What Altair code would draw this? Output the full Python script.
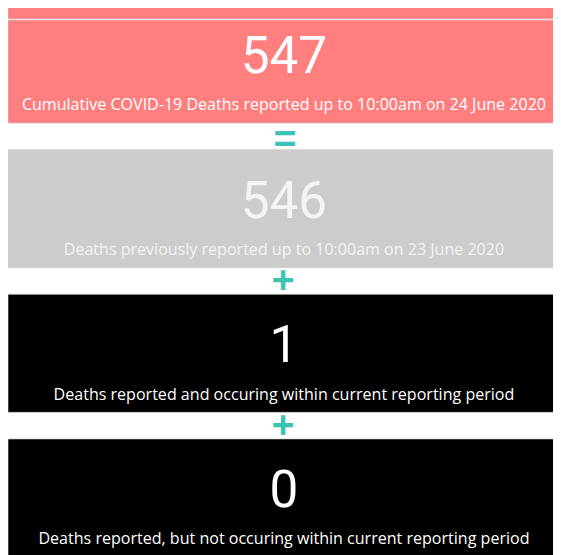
import altair as alt
import pandas as pd

# ---- data ----
panels = ["cumulative", "previous", "within", "outside"]
values = [547, 546, 1, 0]
captions = [
    "Cumulative COVID-19 Deaths reported up to 10:00am on 24 June 2020",
    "Deaths previously reported up to 10:00am on 23 June 2020",
    "Deaths reported and occuring within current reporting period",
    "Deaths reported, but not occuring within current reporting period",
]
fills = ["#FF7F7F", "#CCCCCC", "#000000", "#000000"]
text_colors = ["#FFFFFF", "#F4F4F4", "#FFFFFF", "#FFFFFF"]
operators = ["", "=", "+", "+"]  # sign shown above each panel

df = pd.DataFrame({
    "panel": panels,
    "value": values,
    "caption": captions,
    "fill": fills,
    "tcolor": text_colors,
    "op": operators,
})

W = 553
H = 547

yscale = alt.Scale(domain=panels, range=[-7, 553], paddingInner=0.184, paddingOuter=0)
Y = alt.Y("panel:N", scale=yscale, axis=None)

base = alt.Chart(df)

rects = base.mark_rect(stroke="#C8C8C8", strokeWidth=1, strokeOpacity=0.7).encode(
    y=Y,
    x=alt.value(0),
    x2=alt.value(W + 2),
    color=alt.Color("fill:N", scale=None),
)

numbers = base.mark_text(
    font="Roboto", fontSize=52, baseline="alphabetic", align="center", dy=9
).encode(
    y=Y,
    x=alt.value(280),
    text=alt.Text("value:Q"),
    color=alt.Color("tcolor:N", scale=None),
)

caps = base.mark_text(
    font="Open Sans", fontSize=16.3, baseline="alphabetic", align="center", dy=47
).encode(
    y=Y,
    x=alt.value(280),
    text="caption:N",
    color=alt.Color("tcolor:N", scale=None),
)

eq_sign = base.transform_filter(alt.datum.op == "=").mark_text(
    font="Liberation Sans", fontWeight="bold", fontSize=40, baseline="middle",
    align="center", dy=-70, color="#3BC4B6"
).encode(
    y=Y,
    x=alt.value(281),
    text="op:N",
)

plus_signs = base.transform_filter(alt.datum.op == "+").mark_text(
    font="Liberation Sans", fontWeight="bold", fontSize=40, baseline="middle",
    align="center", dy=-73, color="#3BC4B6"
).encode(
    y=Y,
    x=alt.value(279),
    text="op:N",
)

topline = alt.Chart(pd.DataFrame({"k": [0]})).mark_rule(color="#E6E6E6", strokeWidth=1.5).encode(
    y=alt.value(7.7), x=alt.value(0), x2=alt.value(W)
)

chart = alt.layer(rects, topline, numbers, caps, eq_sign, plus_signs).properties(
    width=W, height=H, autosize="none", padding=0
).configure_view(stroke=None)

chart.save("out.html", embed_options={"renderer": "svg", "actions": False})
